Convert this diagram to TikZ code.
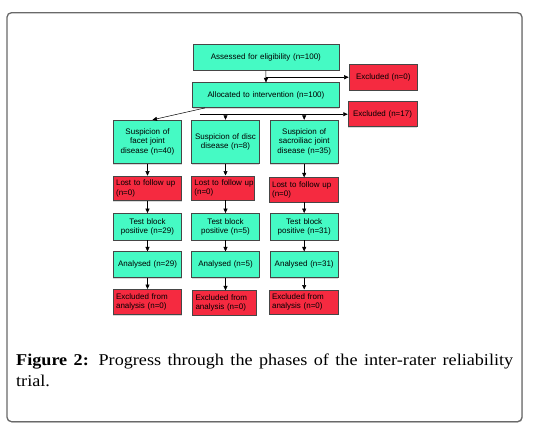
\documentclass[tikz,border=0pt]{standalone}
\usepackage{fontspec}
\setmainfont{Liberation Serif}
\setsansfont{Liberation Sans}
\newfontfamily\capfont{Liberation Serif}[FakeStretch=1.1]
\usetikzlibrary{arrows.meta,shadows,calc}
\definecolor{boxgreen}{RGB}{69,250,196}
\definecolor{boxred}{RGB}{245,42,64}
\definecolor{boxline}{RGB}{70,70,70}
\definecolor{framegray}{RGB}{105,105,105}
\begin{document}
\begin{tikzpicture}[x=1pt,y=-1pt,
  box/.style={draw=boxline, line width=0.5pt, inner sep=0pt,
    font=\sffamily\fontsize{8}{9.5}\selectfont,
    drop shadow={shadow xshift=0pt, shadow yshift=-1.3pt, opacity=0.3}},
  wh/.style 2 args={minimum width=#1pt, minimum height=#2pt, text width=#1pt-5.6pt},
  gbox/.style={box, fill=boxgreen, align=center},
  rbox/.style={box, fill=boxred, align=left},
  arr/.style={draw=black, line width=0.5pt, -{Triangle[length=4.5pt,width=4pt]}},
  frame/.style={draw=framegray, line width=1.3pt, rounded corners=4.5pt, fill=white,
    drop shadow={shadow xshift=0.6pt, shadow yshift=-0.8pt, opacity=0.45}},
  captext/.style={anchor=north west, inner sep=0pt, text width=497pt, align=justify,
    font=\capfont\fontsize{16.5}{21}\selectfont}
]
\useasboundingbox (0,0) rectangle (539,432);
\path[frame] (7,12.7) rectangle (522,421.7);

% top
\node[gbox, wh={146.3}{25.7}] (assess) at (265.9,57.2) {Assessed for eligibility (n=100)};
\node[rbox, wh={68.7}{25.7}, align=center] (exc0) at (383.3,77.2) {Excluded (n=0)};
\node[gbox, wh={146.6}{25}] (alloc) at (266,95.2) {Allocated to intervention (n=100)};
\node[rbox, wh={69}{25}, align=center] (exc17) at (382.5,114.2) {Excluded (n=17)};

% column 1
\node[gbox, wh={68.4}{43.3}] (s1) at (147.5,141.7) {Suspicion of\\facet joint\\disease (n=40)};
\node[rbox, wh={68.4}{24.7}] (l1) at (147.5,188.3) {\mbox{Lost to follow up}\\(n=0)};
\node[gbox, wh={68.4}{26.7}] (t1) at (147.5,226.7) {Test block\\positive (n=29)};
\node[gbox, wh={68.4}{25.6}] (a1) at (147.5,264.5) {Analysed (n=29)};
\node[rbox, wh={68.4}{25}] (e1) at (147.5,301.8) {\mbox{Excluded from}\\analysis (n=0)};

% column 2
\node[gbox, wh={67.6}{43.3}] (s2) at (225.5,141.7) {Suspicion of disc\\disease (n=8)};
\node[rbox, wh={62.3}{24.3}] (l2) at (222.8,187.9) {\mbox{Lost to follow up}\\(n=0)};
\node[gbox, wh={67.6}{26.7}] (t2) at (225.5,226.7) {Test block\\positive (n=5)};
\node[gbox, wh={67.6}{25.6}] (a2) at (225.5,264.5) {Analysed (n=5)};
\node[rbox, wh={64}{24.3}] (e2) at (224.7,302.8) {\mbox{Excluded from}\\analysis (n=0)};

% column 3
\node[gbox, wh={68.3}{43.3}] (s3) at (304.2,141.7) {Suspicion of\\sacroiliac joint\\disease (n=35)};
\node[rbox, wh={69}{24.3}] (l3) at (303.8,189.8) {\mbox{Lost to follow up}\\(n=0)};
\node[gbox, wh={68.3}{26.7}] (t3) at (304.2,226.7) {Test block\\positive (n=31)};
\node[gbox, wh={68.3}{25.6}] (a3) at (304.2,264.5) {Analysed (n=31)};
\node[rbox, wh={69}{24.3}] (e3) at (303.8,301.9) {\mbox{Excluded from}\\analysis (n=0)};

% top connectors
\draw[arr] (assess.south) -- (alloc.north);
\draw[arr] (assess.south |- exc0.west) -- (exc0.west);
\path (exc17.west) -- ++(-148,0) coordinate (j2);
\draw[arr] (j2) -- (exc17.west);
\coordinate (d0) at ($(alloc.south west)!0.085!(alloc.south east)$);
\draw[arr] (d0) -- ($(s1.north)+(5,0)$);
\draw[arr] (j2 -| s2.north) -- (s2.north);
\draw[arr] (j2 -| s3.north) -- (s3.north);

% column connectors
\foreach \c in {1,2,3}{
  \draw[arr] (s\c.south) -- (s\c.south |- l\c.north);
  \draw[arr] (s\c.south |- l\c.south) -- (t\c.north);
  \draw[arr] (t\c.south) -- (a\c.north);
  \draw[arr] (a\c.south) -- (a\c.south |- e\c.north);
}

\node[captext] (cap) at (16,353.5) {\textbf{Figure 2:} Progress through the phases of the inter-rater reliability trial.};
\end{tikzpicture}
\end{document}
